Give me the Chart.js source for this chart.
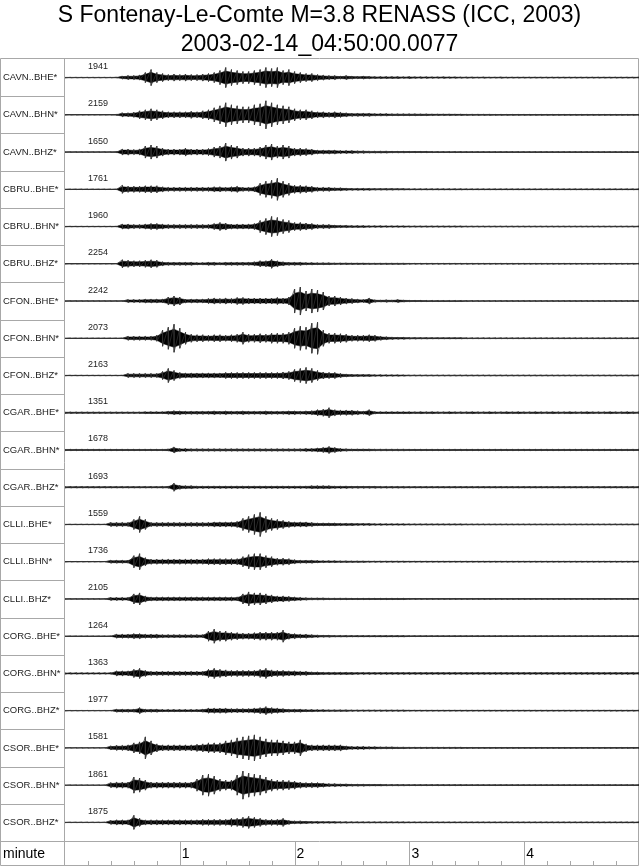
<!DOCTYPE html>
<html>
<head>
<meta charset="utf-8">
<script src="https://cdn.jsdelivr.net/npm/chart.js@4.4.1/dist/chart.umd.min.js"></script>
<style>
  body { margin: 0; background: #fff; }
</style>
</head>
<body>
<canvas id="seismo" width="640" height="866"></canvas>
<script>
const titleLines = ['S Fontenay-Le-Comte M=3.8 RENASS (ICC, 2003)', '2003-02-14_04:50:00.0077'];

const stations = ['CAVN..BHE*','CAVN..BHN*','CAVN..BHZ*','CBRU..BHE*','CBRU..BHN*','CBRU..BHZ*',
  'CFON..BHE*','CFON..BHN*','CFON..BHZ*','CGAR..BHE*','CGAR..BHN*','CGAR..BHZ*',
  'CLLI..BHE*','CLLI..BHN*','CLLI..BHZ*','CORG..BHE*','CORG..BHN*','CORG..BHZ*',
  'CSOR..BHE*','CSOR..BHN*','CSOR..BHZ*'];

const peakCounts = [1941,2159,1650,1761,1960,2254,2242,2073,2163,1351,1678,1693,
  1559,1736,2105,1264,1363,1977,1581,1861,1875];

const minuteTicks = [1, 2, 3, 4];
const minorTicks = [0.2,0.4,0.6,0.8,1.2,1.4,1.6,1.8,2.2,2.4,2.6,2.8,3.2,3.4,3.6,3.8,4.2,4.4,4.6,4.8];

// time in minutes after 04:50:00
const minutes = [
  0.00,0.05,0.10,0.15,0.20,0.25,0.30,0.35,0.40,0.45,
  0.50,0.55,0.60,0.65,0.70,0.75,0.80,0.85,0.90,0.95,
  1.00,1.05,1.10,1.15,1.20,1.25,1.30,1.35,1.40,1.45,
  1.50,1.55,1.60,1.65,1.70,1.75,1.80,1.85,1.90,1.95,
  2.00,2.05,2.10,2.15,2.20,2.25,2.30,2.35,2.40,2.45,
  2.50,2.55,2.60,2.65,2.70,2.75,2.80,2.85,2.90,2.95,
  3.00,3.05,3.10,3.15,3.20,3.25,3.30,3.35,3.40,3.45,
  3.50,3.55,3.60,3.65,3.70,3.75,3.80,3.85,3.90,3.95,
  4.00,4.05,4.10,4.15,4.20,4.25,4.30,4.35,4.40,4.45,
  4.50,4.55,4.60,4.65,4.70,4.75,4.80,4.85,4.90,4.95,
  5.00];

// peak amplitude of each trace per time step (scaled trace units)
const cavnBHE = [
  0.3,0.3,0.3,0.3,0.3,0.3,0.3,0.3,0.3,0.4,
  1.5,2,2,2.5,5,8,5,4,3,3.5,
  3,3.5,3,3,3.5,4,5,7,10,8,
  7,6,6,7,8,10,9,10,7,8,
  6,5,4,4,3,2.5,2,2,1.5,2,
  1.5,1.2,1.5,1.2,1,1,1,1,1,0.8,
  1,0.8,0.8,0.8,0.7,0.7,0.8,0.7,0.7,0.6,
  0.6,0.6,0.5,0.6,0.5,0.5,0.6,0.5,0.5,0.5,
  0.5,0.5,0.5,0.5,0.5,0.5,0.5,0.5,0.5,0.5,
  0.5,0.5,0.5,0.5,0.5,0.5,0.5,0.5,0.5,0.5,
  0.5];
const cavnBHN = [
  0.3,0.3,0.3,0.3,0.3,0.3,0.3,0.3,0.3,0.5,
  2,2,2.5,4,5,6,5,4,3,3,
  3,3,3.5,3,4,5,7,9,12,10,
  9,8,8,10,11,14,12,10,9,8,
  6,5,5,4,3,3,2.5,3,2.5,2,
  1.5,1.5,1.5,1.5,1.2,1.2,1.2,1,1,1,
  1,1,0.9,0.9,0.8,0.8,0.8,0.8,0.7,0.7,
  0.6,0.6,0.6,0.6,0.6,0.5,0.5,0.5,0.5,0.5,
  0.5,0.5,0.5,0.5,0.5,0.5,0.5,0.5,0.5,0.5,
  0.5,0.5,0.5,0.5,0.5,0.5,0.5,0.5,0.5,0.5,
  0.5];
const cavnBHZ = [
  0.3,0.3,0.3,0.3,0.3,0.3,0.3,0.3,0.3,0.5,
  3,3,2.5,3,6,7,6,4,3,3,
  3,4,3,3,3,3.5,5,6,9,7,
  6,4,4,4,5,7,8,6,7,6,
  4,4,3.5,3,2,2,2,2,1.5,1.5,
  1.5,1.2,1.2,1,1,1,1,0.8,0.8,0.8,
  0.7,0.7,0.7,0.7,0.6,0.6,0.6,0.6,0.6,0.6,
  0.5,0.5,0.5,0.5,0.5,0.5,0.5,0.5,0.5,0.5,
  0.5,0.5,0.5,0.5,0.5,0.5,0.5,0.5,0.5,0.5,
  0.5,0.5,0.5,0.5,0.5,0.5,0.5,0.5,0.5,0.5,
  0.5];
const cbruBHE = [
  0.3,0.3,0.3,0.3,0.3,0.3,0.3,0.3,0.3,0.3,
  4,3,3,3,3.5,3.5,3.5,2.5,2,2,
  2,2,2,2,2,2,2.5,2.5,2,2.5,
  3,2,2,2.5,6,8,9,11,8,6,
  4,4,3.5,3,2,2,2,1.5,1.5,1.2,
  1,1,1,1,0.8,0.8,0.8,0.8,0.7,0.7,
  0.6,0.6,0.6,0.6,0.6,0.6,0.6,0.6,0.6,0.6,
  0.5,0.5,0.5,0.5,0.5,0.5,0.5,0.5,0.5,0.5,
  0.5,0.5,0.5,0.5,0.5,0.5,0.5,0.5,0.5,0.5,
  0.5,0.5,0.5,0.5,0.5,0.5,0.5,0.5,0.5,0.5,
  0.5];
const cbruBHN = [
  0.3,0.3,0.3,0.3,0.3,0.3,0.3,0.3,0.3,0.3,
  2.5,2.5,2,2,2.5,3,3,2.5,2,2,
  2,2,2,2,2,2,3,4,3.5,2.5,
  2.5,2.5,2.5,3,6,8,10,9,7,6,
  4,4,3.5,3,2,2,2,1.5,1.2,1.2,
  1,1,1,0.8,0.8,0.8,0.7,0.7,0.7,0.7,
  0.6,0.6,0.6,0.6,0.6,0.6,0.6,0.6,0.6,0.6,
  0.5,0.5,0.5,0.5,0.5,0.5,0.5,0.5,0.5,0.5,
  0.5,0.5,0.5,0.5,0.5,0.5,0.5,0.5,0.5,0.5,
  0.5,0.5,0.5,0.5,0.5,0.5,0.5,0.5,0.5,0.5,
  0.5];
const cbruBHZ = [
  0.3,0.3,0.3,0.3,0.3,0.3,0.3,0.3,0.3,0.3,
  4,3.5,3,3,3.5,4,3.5,2,1.5,1.5,
  1.5,1.5,1.5,1.2,1.2,1.5,1.5,1.2,1.5,1.5,
  1.5,1.5,1.5,2,3,3,4.5,3,2,1.5,
  1.5,1.5,1.2,1.2,1,1,1,0.8,0.8,0.8,
  0.7,0.7,0.7,0.6,0.6,0.6,0.6,0.6,0.6,0.6,
  0.5,0.5,0.5,0.5,0.5,0.5,0.5,0.5,0.5,0.5,
  0.5,0.5,0.5,0.5,0.5,0.5,0.5,0.5,0.5,0.5,
  0.5,0.5,0.5,0.5,0.5,0.5,0.5,0.5,0.5,0.5,
  0.5,0.5,0.5,0.5,0.5,0.5,0.5,0.5,0.5,0.5,
  0.5];
const cfonBHE = [
  0.3,0.3,0.3,0.3,0.3,0.3,0.3,0.3,0.3,0.3,
  0.3,1.5,1.5,1.5,2,2,2,2,4,5,
  4,2,2,2,2,2.5,3,2.5,3,2.5,
  3.5,3.5,3,3,3,3,3,3.5,3,4,
  12,14,10,12,11,9,5,5,4,3,
  2.5,2,1.5,3,1.2,1,1.2,1,1.5,1,
  0.8,0.7,0.7,0.6,0.6,0.6,0.6,0.6,0.6,0.6,
  0.5,0.5,0.5,0.5,0.5,0.5,0.5,0.5,0.5,0.5,
  0.5,0.5,0.5,0.5,0.5,0.5,0.5,0.5,0.5,0.5,
  0.5,0.5,0.5,0.5,0.5,0.5,0.5,0.5,0.5,0.5,
  0.5];
const cfonBHN = [
  0.3,0.3,0.3,0.3,0.3,0.3,0.3,0.3,0.3,0.3,
  0.3,2,2,2,2,2,3,8,11,14,
  10,6,4,3.5,3.5,3,3.5,3.5,3,3.5,
  4,6,4,4,4.5,4,5,5,5,6,
  10,12,11,15,16,8,5,5,4.5,4,
  3,3,3,3.5,3,2,1.5,1.2,1,1,
  0.8,0.8,0.7,0.7,0.6,0.6,0.6,0.6,0.6,0.6,
  0.5,0.5,0.5,0.5,0.5,0.5,0.5,0.5,0.5,0.5,
  0.5,0.5,0.5,0.5,0.5,0.5,0.5,0.5,0.5,0.5,
  0.5,0.5,0.5,0.5,0.5,0.5,0.5,0.5,0.5,0.5,
  0.5];
const cfonBHZ = [
  0.3,0.3,0.3,0.3,0.3,0.3,0.3,0.3,0.3,0.3,
  0.3,2,2,2,2,2,2,4,7,5,
  3,2.5,2.5,2.5,2.5,2.5,2.5,2.5,3,3,
  3,3,3,3,3,3,3,3,3.5,4,
  6,7,8,7,5,3.5,3,3,2,1.5,
  1.2,1,1,1,0.8,0.8,0.7,0.7,0.7,0.6,
  0.5,0.5,0.5,0.5,0.5,0.5,0.5,0.5,0.5,0.5,
  0.5,0.5,0.5,0.5,0.5,0.5,0.5,0.5,0.5,0.5,
  0.5,0.5,0.5,0.5,0.5,0.5,0.5,0.5,0.5,0.5,
  0.5,0.5,0.5,0.5,0.5,0.5,0.5,0.5,0.5,0.5,
  0.5];
const cgarBHE = [
  0.8,0.8,0.8,0.8,0.8,0.8,0.8,0.8,0.8,0.8,
  0.8,0.8,0.8,0.8,1,1,1,1,1.5,2,
  1.8,1.5,1.5,1.5,1.5,1.5,1.8,1.5,1.8,1.5,
  1.5,1.8,1.5,1.5,1.5,1.8,1.5,1.5,1.5,1.8,
  1.8,1.5,1.8,2,3,3.5,5,3,2.5,2.5,
  2.5,2,1.5,3,1.2,1,1,1,1,1,
  1,0.9,1,0.9,1,0.9,0.9,1,0.9,0.9,
  0.9,1,0.9,0.9,1,0.9,0.9,1,0.9,1,
  0.9,0.9,1,0.9,0.9,1,0.9,0.9,1,0.9,
  0.9,1,0.9,0.9,0.9,1,0.9,0.9,1,0.9,
  0.9];
const cgarBHN = [
  0.8,0.8,0.8,0.8,0.8,0.8,0.8,0.8,0.8,0.8,
  0.8,0.8,0.8,0.8,0.8,0.8,0.8,0.8,1,3,
  1.5,1.5,1.2,1.2,1.2,1.2,1.2,1.2,1.2,1.2,
  1.2,1.2,1.2,1.2,1.2,1.2,1.2,1.2,1.2,1.2,
  1.2,1.2,1.5,1.5,2,2.5,3.5,2.5,1.5,1.2,
  1,1,1,1,0.9,0.9,0.9,0.9,0.9,0.9,
  0.8,0.8,0.8,0.8,0.8,0.8,0.8,0.8,0.8,0.8,
  0.8,0.8,0.8,0.8,0.8,0.8,0.8,0.8,0.8,0.8,
  0.8,0.8,0.8,0.8,0.8,0.8,0.8,0.8,0.8,0.8,
  0.8,0.8,0.8,0.8,0.8,0.8,0.8,0.8,0.8,0.8,
  0.8];
const cgarBHZ = [
  0.8,0.8,0.8,0.8,0.8,0.8,0.8,0.8,0.8,0.8,
  0.8,0.8,0.8,0.8,0.8,0.8,0.8,0.9,1,4,
  2,1.5,1.5,1.2,1.2,1.2,1.2,1.2,1.2,1.2,
  1.2,1.2,1.2,1.2,1.2,1.2,1.2,1.2,1.2,1.2,
  1.2,1.2,1.2,1.5,1.5,1.5,1.5,1.2,1.2,1.2,
  1,1,1,1,1,0.9,0.9,0.9,0.9,0.9,
  0.8,0.8,0.8,0.8,0.8,0.8,0.8,0.8,0.8,0.8,
  0.8,0.8,0.8,0.8,0.8,0.8,0.8,0.8,0.8,0.8,
  0.8,0.8,0.8,0.8,0.8,0.8,0.8,0.8,0.8,0.8,
  0.8,0.8,0.8,0.8,0.8,0.8,0.8,0.8,0.8,0.8,
  0.8];
const clliBHE = [
  0.3,0.3,0.3,0.3,0.3,0.3,0.3,0.3,2,2,
  2,2,5,8,5,2,2,2,2,2,
  2,2,2,2,2,2,2.5,2.5,2.5,2.5,
  3,6,8,10,12,8,6,5,4,3,
  2.5,2.5,2.5,2,1.5,1.5,1.5,1.5,1.2,1.2,
  1.2,1,1,1,0.8,0.8,0.7,0.7,0.7,0.7,
  0.6,0.6,0.6,0.6,0.6,0.6,0.6,0.6,0.6,0.6,
  0.5,0.5,0.5,0.5,0.5,0.5,0.5,0.5,0.5,0.5,
  0.5,0.5,0.5,0.5,0.5,0.5,0.5,0.5,0.5,0.5,
  0.5,0.5,0.5,0.5,0.5,0.5,0.5,0.5,0.5,0.5,
  0.5];
const clliBHN = [
  0.3,0.3,0.3,0.3,0.3,0.3,0.3,0.3,1.5,1.5,
  1.5,1.5,6,8,4,2.5,2.5,2.5,2.5,2.5,
  2.5,2.5,2.5,2.5,2.5,3,3,3,3,3,
  3,5,7,8,8,6,5,3.5,3.5,3,
  2,1.5,1.5,1.5,1.2,1,1,1,0.8,0.8,
  0.7,0.7,0.7,0.6,0.6,0.6,0.6,0.6,0.6,0.6,
  0.5,0.5,0.5,0.5,0.5,0.5,0.5,0.5,0.5,0.5,
  0.5,0.5,0.5,0.5,0.5,0.5,0.5,0.5,0.5,0.5,
  0.5,0.5,0.5,0.5,0.5,0.5,0.5,0.5,0.5,0.5,
  0.5,0.5,0.5,0.5,0.5,0.5,0.5,0.5,0.5,0.5,
  0.5];
const clliBHZ = [
  0.3,0.3,0.3,0.3,0.3,0.3,0.3,0.3,1.5,1.5,
  1.5,1.5,5,6,3,2,2,2,2,2,
  2,2,2,2,2,2,2,2,2,2,
  2,5,7,6,6,5,4,3,3,2.5,
  2,1.5,1.2,1,1,1,0.8,0.8,0.8,0.8,
  0.7,0.7,0.7,0.7,0.7,0.7,0.7,0.7,0.7,0.7,
  0.5,0.5,0.5,0.5,0.5,0.5,0.5,0.5,0.5,0.5,
  0.5,0.5,0.5,0.5,0.5,0.5,0.5,0.5,0.5,0.5,
  0.5,0.5,0.5,0.5,0.5,0.5,0.5,0.5,0.5,0.5,
  0.5,0.5,0.5,0.5,0.5,0.5,0.5,0.5,0.5,0.5,
  0.5];
const corgBHE = [
  0.3,0.3,0.3,0.3,0.3,0.3,0.3,0.3,0.3,2,
  2,2,2.5,2.5,2,2,2,1.5,1.5,1.5,
  1.5,1.5,1.5,1.5,1.5,5,7,5,5,4,
  3.5,3,3,3.5,4,4,4,4,6,3,
  2.5,2,2,1.5,1.2,1,1,0.8,0.8,0.8,
  0.7,0.7,0.7,0.7,0.7,0.7,0.7,0.7,0.7,0.7,
  0.5,0.5,0.5,0.5,0.5,0.5,0.5,0.5,0.5,0.5,
  0.5,0.5,0.5,0.5,0.5,0.5,0.5,0.5,0.5,0.5,
  0.5,0.5,0.5,0.5,0.5,0.5,0.5,0.5,0.5,0.5,
  0.5,0.5,0.5,0.5,0.5,0.5,0.5,0.5,0.5,0.5,
  0.5];
const corgBHN = [
  0.7,0.7,0.7,0.7,0.7,0.7,0.7,0.7,0.8,2.5,
  2.5,2.5,4,5,3,2,2,2,2,2,
  2,2,2,2,2,4,5,4,3.5,3,
  3,3,3,3,4,5,3.5,3,3,2.5,
  2.5,2,2,1.5,1.5,1.2,1.2,1.2,1.2,1.2,
  1.1,1,1,1,1,1,1,1,1,1,
  1,1,1,1,1,1,1,1,1,1,
  1,1,1,1,1,1,1,1,1,1,
  1,1,1,1,1,1,1,1,1,1,
  1,1,1,1,1,1,1,1,1,1,
  1];
const corgBHZ = [
  0.3,0.3,0.3,0.3,0.3,0.3,0.3,0.3,0.3,1.5,
  1.5,1.5,1.5,3,1.5,1.5,1.5,1.2,1.2,1.2,
  1.2,1.2,1.2,1.2,1.5,2.5,2.5,2.5,2.5,2,
  2,2,2,2.5,3,4,3,2.5,2,1.5,
  1.5,1.5,1.2,1.2,1,1,0.8,0.8,0.8,0.8,
  0.7,0.7,0.7,0.7,0.7,0.7,0.7,0.7,0.7,0.7,
  0.5,0.5,0.5,0.5,0.5,0.5,0.5,0.5,0.5,0.5,
  0.5,0.5,0.5,0.5,0.5,0.5,0.5,0.5,0.5,0.5,
  0.5,0.5,0.5,0.5,0.5,0.5,0.5,0.5,0.5,0.5,
  0.5,0.5,0.5,0.5,0.5,0.5,0.5,0.5,0.5,0.5,
  0.5];
const csorBHE = [
  0.3,0.3,0.3,0.3,0.3,0.3,0.3,0.3,2,2.5,
  2.5,3,5,6,11,7,4,3,3,3,
  3,3,3,3.5,4,5,5,5,7,8,
  10,11,12,13,11,9,8,8,7,6,
  6,8,4,3,3,3,3,3,3,2,
  1.5,1.5,1.5,1.2,1.2,1,1,1,0.8,0.8,
  0.7,0.7,0.7,0.7,0.7,0.7,0.7,0.7,0.7,0.7,
  0.5,0.5,0.5,0.5,0.5,0.5,0.5,0.5,0.5,0.5,
  0.5,0.5,0.5,0.5,0.5,0.5,0.5,0.5,0.5,0.5,
  0.5,0.5,0.5,0.5,0.5,0.5,0.5,0.5,0.5,0.5,
  0.5];
const csorBHN = [
  0.3,0.3,0.3,0.3,0.3,0.3,0.3,0.3,2.5,3,
  3,3,8,7,5,3,3,3,3,3,
  3,3,3,6,10,11,9,6,5,5,
  10,14,12,11,10,8,6,5,5,4.5,
  4,3,2.5,2.5,2.5,2,1.5,1.5,1.2,1.2,
  1,1,1,0.8,0.8,0.8,0.7,0.7,0.7,0.7,
  0.6,0.6,0.6,0.6,0.6,0.6,0.6,0.6,0.6,0.6,
  0.5,0.5,0.5,0.5,0.5,0.5,0.5,0.5,0.5,0.5,
  0.5,0.5,0.5,0.5,0.5,0.5,0.5,0.5,0.5,0.5,
  0.5,0.5,0.5,0.5,0.5,0.5,0.5,0.5,0.5,0.5,
  0.5];
const csorBHZ = [
  0.3,0.3,0.3,0.3,0.3,0.3,0.3,0.3,2,2.5,
  2.5,2.5,7,4,2.5,2.5,2.5,2.5,2.5,2.5,
  2.5,2.5,2.5,2.5,3,3,3,3,3,4,
  4,5,6,5,4,3,3,3,4,2,
  1.5,1.5,1.2,1,1,0.8,0.8,0.8,0.7,0.7,
  0.6,0.6,0.6,0.6,0.6,0.6,0.6,0.6,0.6,0.6,
  0.5,0.5,0.5,0.5,0.5,0.5,0.5,0.5,0.5,0.5,
  0.5,0.5,0.5,0.5,0.5,0.5,0.5,0.5,0.5,0.5,
  0.5,0.5,0.5,0.5,0.5,0.5,0.5,0.5,0.5,0.5,
  0.5,0.5,0.5,0.5,0.5,0.5,0.5,0.5,0.5,0.5,
  0.5];

const traces = [cavnBHE, cavnBHN, cavnBHZ, cbruBHE, cbruBHN, cbruBHZ,
  cfonBHE, cfonBHN, cfonBHZ, cgarBHE, cgarBHN, cgarBHZ,
  clliBHE, clliBHN, clliBHZ, corgBHE, corgBHN, corgBHZ,
  csorBHE, csorBHN, csorBHZ];

const ROW = 37.2;   // y units per trace row
const CORE = 0.65;  // share of the peak drawn as solid core
const FONT = '"Liberation Sans", Arial, Helvetica, sans-serif';
const FRAME = '#a8a8a8';

function baseOf(i) { return ROW * (traces.length - i - 0.5); }

const datasets = [];
traces.forEach(function(amp, i) {
  const base = baseOf(i);
  // min/max strokes per time step
  const zig = [];
  minutes.forEach((t, k) => {
    zig.push({ x: t, y: base + amp[k] });
    zig.push({ x: t, y: base - amp[k] });
  });
  datasets.push({
    label: stations[i], data: zig,
    borderColor: '#333', borderWidth: 0.7, pointRadius: 0, fill: false
  });
  // dense core
  datasets.push({
    label: stations[i] + ' core+',
    data: minutes.map((t, k) => ({ x: t, y: base + amp[k] * CORE })),
    borderColor: '#000', borderWidth: 0.5, pointRadius: 0, fill: false
  });
  datasets.push({
    label: stations[i] + ' core-',
    data: minutes.map((t, k) => ({ x: t, y: base - amp[k] * CORE })),
    borderColor: '#000', borderWidth: 0.5, pointRadius: 0,
    fill: '-1', backgroundColor: '#000'
  });
});

const framePlugin = {
  id: 'framePlugin',
  beforeDatasetsDraw(chart) {
    const ctx = chart.ctx, area = chart.chartArea;
    const xs = chart.scales.x, ys = chart.scales.y;
    const H = chart.height, W = chart.width;
    ctx.save();
    ctx.strokeStyle = FRAME;
    ctx.lineWidth = 1;
    ctx.beginPath();
    ctx.rect(0.5, Math.round(area.top) - 0.5, W - 2, H - Math.round(area.top));
    const lx = Math.round(area.left) - 0.5;
    ctx.moveTo(lx, area.top); ctx.lineTo(lx, H);
    for (let i = 1; i < traces.length; i++) {
      const y = Math.round(ys.getPixelForValue(ROW * i)) + 0.5;
      ctx.moveTo(0, y); ctx.lineTo(lx, y);
    }
    const by = Math.round(area.bottom) + 0.5;
    ctx.moveTo(0, by); ctx.lineTo(W - 1, by);
    minuteTicks.forEach(m => {
      const x = Math.round(xs.getPixelForValue(m)) + 0.5;
      ctx.moveTo(x, by); ctx.lineTo(x, H);
    });
    minorTicks.forEach(m => {
      const x = Math.round(xs.getPixelForValue(m)) + 0.5;
      ctx.moveTo(x, H - 1); ctx.lineTo(x, H - 5);
    });
    ctx.stroke();
    ctx.restore();
  },
  afterDatasetsDraw(chart) {
    const ctx = chart.ctx, area = chart.chartArea;
    const xs = chart.scales.x, ys = chart.scales.y;
    ctx.save();
    ctx.fillStyle = '#222';
    ctx.textBaseline = 'middle';
    stations.forEach((s, i) => {
      const y = ys.getPixelForValue(baseOf(i));
      ctx.font = '9.5px ' + FONT;
      ctx.fillText(s, 3, y);
      ctx.font = '9px ' + FONT;
      ctx.fillText(String(peakCounts[i]), xs.getPixelForValue(0.2), y - 11);
    });
    ctx.fillStyle = '#000';
    ctx.font = '14px ' + FONT;
    const ty = (area.bottom + chart.height) / 2 + 1;
    ctx.fillText('minute', 3, ty);
    minuteTicks.forEach(m => ctx.fillText(String(m), xs.getPixelForValue(m) + 2, ty));
    ctx.restore();
  }
};

new Chart(document.getElementById('seismo'), {
  type: 'line',
  data: { datasets: datasets },
  options: {
    responsive: false,
    animation: false,
    devicePixelRatio: 1,
    layout: { padding: { left: 0, right: 1, top: 0, bottom: 25 } },
    elements: { line: { tension: 0 } },
    plugins: {
      legend: { display: false },
      tooltip: { enabled: false },
      title: {
        display: true,
        text: titleLines,
        color: '#000',
        font: { family: FONT, size: 23, weight: 'normal', lineHeight: 1.26 },
        padding: { top: 1, bottom: 0 }
      }
    },
    scales: {
      x: { type: 'linear', min: 0, max: 5, display: false },
      y: {
        min: 0, max: ROW * 21,
        grid: { display: false }, border: { display: false },
        ticks: { display: false },
        afterFit: s => { s.width = 65; }   // room for the station column
      }
    }
  },
  plugins: [framePlugin]
});
</script>
</body>
</html>
